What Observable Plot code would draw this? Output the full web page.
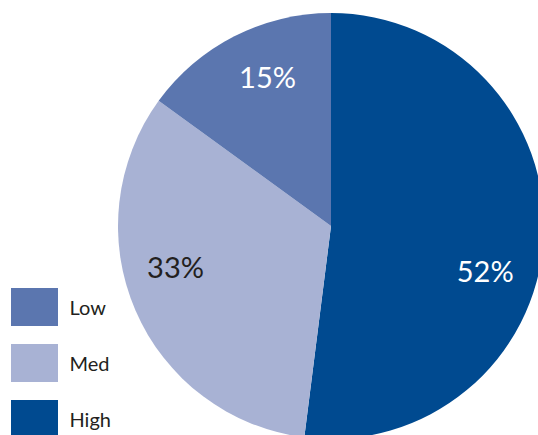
<!DOCTYPE html>
<html>
<head>
<meta charset="utf-8">
<script src="https://cdn.jsdelivr.net/npm/d3@7"></script>
<script src="https://cdn.jsdelivr.net/npm/@observablehq/plot@0.6"></script>
<style>
  html, body { margin: 0; padding: 0; background: #fff; overflow: hidden; }
</style>
</head>
<body>
<div id="chart"></div>
<script>
// Data
const categories = ["Low", "Med", "High"];
const values = [15, 33, 52];
const labels = ["15%", "33%", "52%"];
const colors = ["#5b76af", "#a8b2d4", "#004a90"];
const pieOrder = ["High", "Med", "Low"]; // clockwise from 12 o'clock

const rows = categories.map((c, i) => ({category: c, value: values[i], label: labels[i]}));
const pieRows = pieOrder.map(c => rows.find(r => r.category === c));

// Layout
const W = 538, H = 435;
const CX = 331, CY = 226, R = 213, LR = 161, LFRAC = 0.57;
const FONT = "Lato, 'Open Sans', 'DejaVu Sans', sans-serif";

const arcs = d3.pie().sort(null).value(d => d.value)(pieRows);

function pieMark(index, scales, values, dimensions) {
  const g = d3.create("svg:g");
  const arcGen = d3.arc().innerRadius(0).outerRadius(R);
  g.selectAll("path").data(arcs).join("path")
    .attr("transform", `translate(${CX},${CY})`)
    .attr("d", arcGen)
    .attr("fill", d => scales.color(d.data.category));
  g.selectAll("text").data(arcs).join("text")
    .attr("x", a => CX + LR * Math.sin(a.startAngle + LFRAC * (a.endAngle - a.startAngle)))
    .attr("y", a => CY - LR * Math.cos(a.startAngle + LFRAC * (a.endAngle - a.startAngle)))
    .attr("text-anchor", "middle")
    .attr("dy", "0.35em")
    .attr("font-size", 29)
    .attr("font-family", FONT)
    .attr("fill", a => a.data.category === "Med" ? "#231f20" : "#ffffff")
    .text(a => a.data.label);
  return g.node();
}

const chart = Plot.plot({
  width: W, height: H,
  margin: 0,
  x: {type: "identity", axis: null},
  y: {type: "band", domain: categories, range: [287, 438], paddingInner: 0.327, paddingOuter: 0, axis: null},
  color: {domain: categories, range: colors},
  style: {fontFamily: FONT, background: "#fff"},
  marks: [
    pieMark,
    Plot.barX(rows, {y: "category", x1: 11, x2: 58, fill: "category"}),
    Plot.text(rows, {y: "category", x: 69, text: "category", textAnchor: "start", fontSize: 20, fill: "#231f20", dy: 1})
  ]
});

document.getElementById("chart").appendChild(chart);
</script>
</body>
</html>
